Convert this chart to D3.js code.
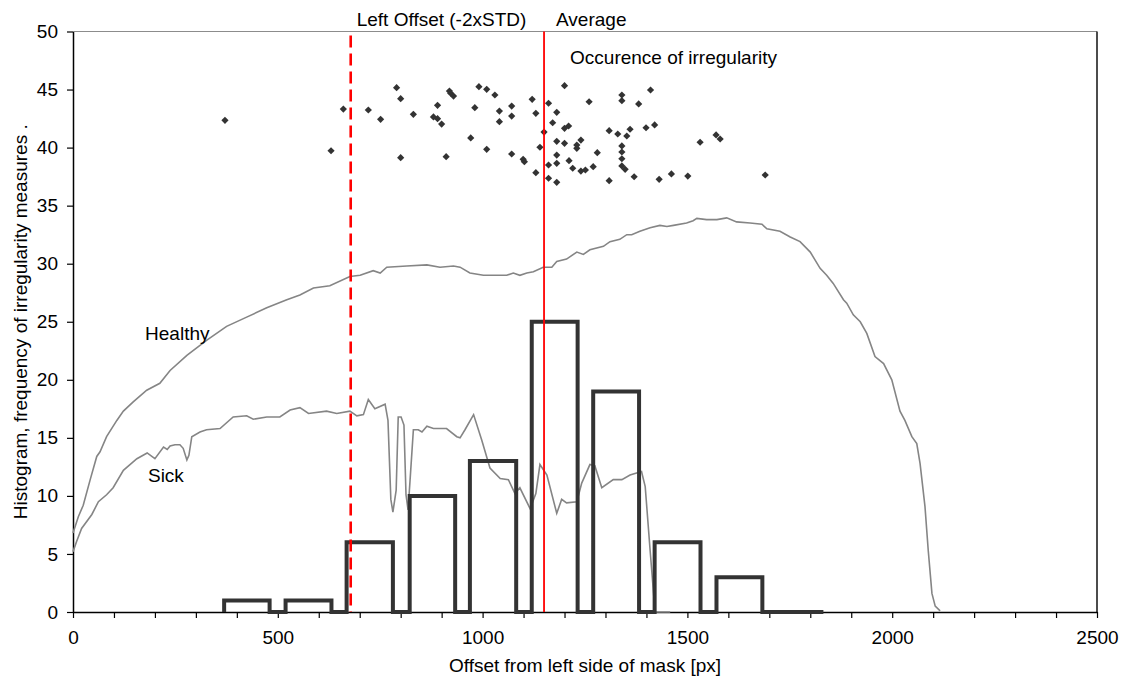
<!DOCTYPE html>
<html>
<head>
<meta charset="utf-8">
<script src="https://cdn.jsdelivr.net/npm/d3@7"></script>
<style>
  body { margin: 0; background: #fff; }
  svg text { font-family: "Liberation Sans", Arial, sans-serif; font-size: 19px; fill: #000; }
</style>
</head>
<body>
<svg id="chart" width="1124" height="684"></svg>
<script>
// healthy / sick profiles: [offset px, value]
const healthy = [[0,6.8],[13,8.2],[25,9.2],[42,11.4],[58,13.4],[66,13.8],[82,15.1],[107,16.5],[123,17.3],[147,18.1],[180,19.1],[212,19.7],[237,20.8],[278,22.1],[326,23.4],[375,24.6],[424,25.4],[473,26.2],[522,26.9],[554,27.3],[587,27.9],[627,28.1],[676,28.9],[701,29.0],[733,29.4],[750,29.2],[766,29.7],[815,29.8],[864,29.9],[896,29.7],[929,29.8],[945,29.7],[969,29.2],[1002,29.0],[1059,29.0],[1075,29.2],[1091,29.0],[1108,29.2],[1124,29.3],[1148,29.7],[1169,29.7],[1181,30.2],[1205,30.4],[1230,31.0],[1246,30.8],[1262,31.2],[1295,31.5],[1311,31.9],[1335,32.1],[1352,32.5],[1364,32.5],[1384,32.8],[1409,33.1],[1433,33.3],[1450,33.2],[1466,33.3],[1498,33.5],[1514,33.7],[1523,33.9],[1547,33.8],[1572,33.8],[1596,33.95],[1620,33.6],[1653,33.5],[1682,33.4],[1694,33.0],[1726,32.8],[1751,32.3],[1775,31.9],[1800,31.0],[1824,29.6],[1840,29.0],[1856,28.3],[1881,26.9],[1889,26.6],[1905,25.6],[1922,25.0],[1938,24.0],[1958,22.0],[1979,21.4],[1999,20.0],[2019,17.3],[2031,16.5],[2048,15.1],[2060,14.5],[2068,12.8],[2080,9.1],[2088,5.3],[2097,1.6],[2105,0.5],[2117,0.1]];

const sick = [[0,5.2],[9,6.1],[21,7.2],[46,8.4],[62,9.5],[82,10.1],[98,10.7],[123,12.2],[156,13.2],[181,13.7],[200,13.2],[221,14.2],[230,14.0],[237,14.3],[249,14.4],[261,14.4],[269,14.1],[278,13.1],[283,13.5],[290,15.1],[310,15.5],[326,15.7],[359,15.8],[391,16.8],[424,16.9],[440,16.6],[473,16.8],[505,16.8],[530,17.4],[554,17.6],[575,17.1],[619,17.3],[644,17.1],[676,17.3],[693,16.9],[709,17.0],[721,18.3],[737,17.5],[762,17.9],[769,16.5],[776,9.7],[781,8.6],[789,10.5],[794,16.8],[801,16.8],[808,16.1],[813,10.1],[818,8.8],[823,11.4],[831,15.7],[843,15.7],[852,15.5],[864,16.0],[880,15.8],[912,15.8],[937,15.1],[945,15.0],[957,15.7],[978,17.0],[998,14.8],[1018,12.4],[1043,11.5],[1063,11.4],[1079,10.2],[1091,10.7],[1116,8.9],[1130,10.2],[1140,12.7],[1157,11.8],[1181,8.5],[1193,9.7],[1205,9.4],[1230,9.5],[1242,11.1],[1262,12.7],[1274,12.6],[1291,10.7],[1319,11.4],[1340,11.4],[1360,11.8],[1388,12.1],[1397,10.8],[1409,5.3],[1421,0],[1458,0]];

// histogram bins
const binStart = [369, 519, 668, 822, 969, 1120, 1270, 1420, 1571, 1720];
const binEnd   = [480, 631, 781, 933, 1082, 1232, 1382, 1532, 1683, 1832];
const binCount = [1, 1, 6, 10, 13, 25, 19, 6, 3, 0];

// occurence of irregularity (offset, value)
const irregX = [371,630,660,721,751,790,800,800,831,880,890,890,900,911,919,922,929,971,981,991,1010,1010,1030,1041,1041,1071,1071,1071,1099,1102,1121,1130,1130,1140,1150,1161,1161,1161,1171,1181,1181,1181,1181,1181,1200,1200,1200,1210,1211,1220,1230,1230,1240,1240,1251,1260,1270,1280,1309,1309,1330,1340,1340,1340,1340,1340,1340,1348,1352,1360,1370,1381,1399,1410,1420,1431,1461,1501,1531,1570,1580,1690];
const irregY = [42.35,39.73,43.32,43.24,42.44,45.16,44.21,39.13,42.87,42.64,43.64,42.49,42.03,39.22,44.87,44.68,44.44,40.83,43.44,45.25,45.02,39.85,44.53,43.15,42.23,43.58,42.72,39.45,38.99,38.79,44.16,42.95,37.84,40.03,41.34,43.82,38.50,37.36,42.14,43.04,40.54,39.36,38.65,37.01,45.33,41.66,40.37,41.86,38.87,38.22,40.22,39.94,40.65,37.98,38.07,43.95,38.36,39.56,41.46,37.15,41.17,44.53,44.04,40.14,39.62,39.04,38.42,38.13,41.00,41.58,37.49,43.76,41.71,44.96,41.95,37.27,37.73,37.55,40.46,41.09,40.74,37.64];

const leftOffset = 678;
const average = 1150;

const xTickLabels = [0, 500, 1000, 1500, 2000, 2500];
const yTickLabels = [0, 5, 10, 15, 20, 25, 30, 35, 40, 45, 50];

const margin = { top: 31.5, right: 27, bottom: 72, left: 73 };
const width = 1124 - margin.left - margin.right;
const height = 684 - margin.top - margin.bottom;

const svg = d3.select("#chart");
const g = svg.append("g").attr("transform", `translate(${margin.left},${margin.top})`);

const x = d3.scaleLinear().domain([0, 2500]).range([0, width]);
const y = d3.scaleLinear().domain([0, 50]).range([height, 0]);

// plot area border (top gray, right dark)
g.append("line").attr("x1", 0).attr("x2", width).attr("y1", 0).attr("y2", 0)
  .attr("stroke", "#8c8c8c").attr("stroke-width", 1.2);
g.append("line").attr("x1", width).attr("x2", width).attr("y1", 0).attr("y2", height)
  .attr("stroke", "#111").attr("stroke-width", 1.5);

// axes
const xAxis = d3.axisBottom(x)
  .tickValues(d3.range(0, 2501, 100))
  .tickFormat(d => xTickLabels.includes(d) ? d : "")
  .tickSize(6).tickPadding(13).tickSizeOuter(0);
const yAxis = d3.axisLeft(y)
  .tickValues(yTickLabels)
  .tickSize(6).tickPadding(9).tickSizeOuter(0);

const gx = g.append("g").attr("transform", `translate(0,${height})`).call(xAxis);
const gy = g.append("g").call(yAxis);
[gx, gy].forEach(a => {
  a.attr("font-size", null).attr("font-family", null);
  a.select(".domain").attr("stroke", "#000").attr("stroke-width", 1.5);
  a.selectAll(".tick line").attr("stroke", "#000").attr("stroke-width", 1.2);
  a.selectAll(".tick text").attr("fill", "#000");
});

// profile curves
const line = d3.line().x(d => x(d[0])).y(d => y(d[1]));
[healthy, sick].forEach(data => {
  g.append("path").datum(data)
    .attr("fill", "none").attr("stroke", "#858585").attr("stroke-width", 1.6)
    .attr("d", line);
});

// histogram as one step outline
const steps = [];
binStart.forEach((s, i) => {
  steps.push([s, 0], [s, binCount[i]], [binEnd[i], binCount[i]], [binEnd[i], 0]);
});
g.append("path").datum(steps)
  .attr("fill", "none").attr("stroke", "#333").attr("stroke-width", 4)
  .attr("stroke-linejoin", "miter")
  .attr("d", line);

// irregularity points
const diamond = d3.symbol().type(d3.symbolSquare).size(26);
g.selectAll(".pt")
  .data(irregX.map((v, i) => [v, irregY[i]]))
  .enter().append("path")
  .attr("class", "pt")
  .attr("d", diamond)
  .attr("transform", d => `translate(${x(d[0])},${y(d[1])}) rotate(45)`)
  .attr("fill", "#333");

// reference lines
g.append("line")
  .attr("x1", x(leftOffset)).attr("x2", x(leftOffset))
  .attr("y1", 4).attr("y2", height)
  .attr("stroke", "#ff0000").attr("stroke-width", 2.6)
  .attr("stroke-dasharray", "12,6");
g.append("line")
  .attr("x1", x(average)).attr("x2", x(average))
  .attr("y1", 0).attr("y2", height)
  .attr("stroke", "#ff0000").attr("stroke-width", 1.8);

// annotations
g.append("text").attr("x", x(leftOffset) + 6).attr("y", -6).text("Left Offset (-2xSTD)");
g.append("text").attr("x", x(average) + 12).attr("y", -6).text("Average");
g.append("text").attr("x", x(average) + 26).attr("y", 32).text("Occurence of irregularity");
g.append("text").attr("x", x(176)).attr("y", y(23.4)).text("Healthy");
g.append("text").attr("x", x(183)).attr("y", y(11.2)).text("Sick");

// axis titles
svg.append("text")
  .attr("transform", `translate(20,${margin.top + height / 2}) rotate(-90)`)
  .attr("text-anchor", "middle").attr("dy", "0.35em")
  .text("Histogram, frequency of irregularity measures .");
svg.append("text")
  .attr("x", margin.left + width / 2).attr("y", 665)
  .attr("text-anchor", "middle").attr("dy", "0.35em")
  .text("Offset from left side of mask [px]");
</script>
</body>
</html>
